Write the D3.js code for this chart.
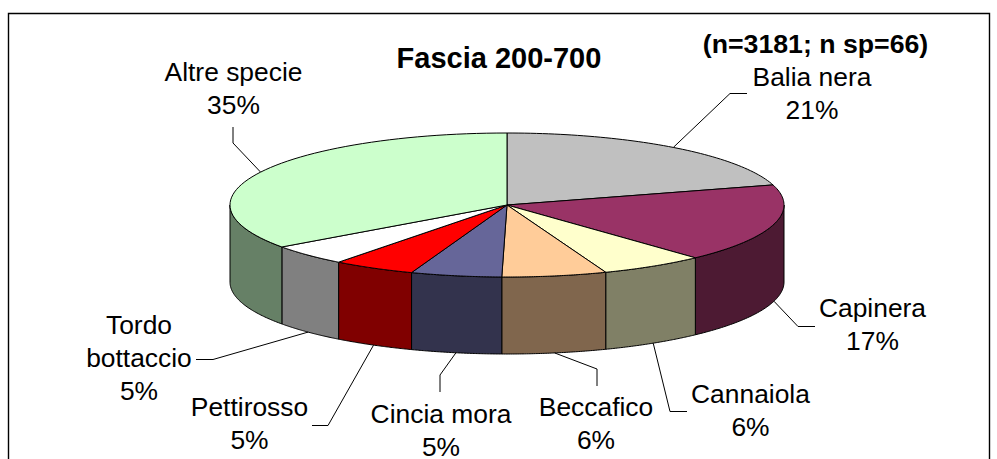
<!DOCTYPE html>
<html>
<head>
<meta charset="utf-8">
<script src="https://cdn.jsdelivr.net/npm/d3@7"></script>
<style>
  html, body { margin: 0; padding: 0; background: #fff; }
  svg { display: block; }
  text { font-family: "Liberation Sans", Arial, sans-serif; fill: #000; }
</style>
</head>
<body>
<script>
// values, clockwise from 12 o'clock
const species = ["Balia nera", "Capinera", "Cannaiola", "Beccafico", "Cincia mora", "Pettirosso", "Tordo bottaccio", "Altre specie"];
const shares = [20.5, 17.6, 6.1, 6.1, 5.3, 4.8, 4.7, 34.9];
const shareLabels = ["21%", "17%", "6%", "6%", "5%", "5%", "5%", "35%"];
const topColors = ["#c0c0c0", "#993366", "#ffffcc", "#ffcc99", "#666699", "#ff0000", "#ffffff", "#ccffcc"];
const sideColors = ["#606060", "#4d1a33", "#808066", "#80664d", "#33334d", "#800000", "#808080", "#668066"];

const width = 997;
const height = 459;

// pie geometry
const cx = 507, cy = 205, rx = 277, ry = 72, depth = 77;
const lineHeight = 33;

// where each label sits and the elbow of its leader line
const labelLayout = [
  { lines: ["Balia nera"], x: 812, y: 86, elbow: [[730, 93.5], [747, 93.5]] },
  { lines: ["Capinera"], x: 872.5, y: 317, elbow: [[798, 326.5], [815, 326.5]] },
  { lines: ["Cannaiola"], x: 750.5, y: 403, elbow: [[670, 411.5], [687, 411.5]] },
  { lines: ["Beccafico"], x: 596, y: 416, elbow: [[597, 369], [597, 386]] },
  { lines: ["Cincia mora"], x: 441, y: 423, elbow: [[440, 375], [440, 392]] },
  { lines: ["Pettirosso"], x: 249.5, y: 416, elbow: [[328, 425.5], [312, 425.5]] },
  { lines: ["Tordo", "bottaccio"], x: 139, y: 334, elbow: [[213, 359.5], [196, 359.5]] },
  { lines: ["Altre specie"], x: 233.5, y: 81, elbow: [[233, 143], [233, 127]] },
];

const svg = d3.select("body").append("svg")
  .attr("width", width)
  .attr("height", height);

// chart frame, cut off by the bottom of the picture
svg.append("path")
  .attr("d", `M8.5,${height} V13.5 H989.5 V${height}`)
  .attr("fill", "none")
  .attr("stroke", "#000")
  .attr("stroke-width", 1.4);

const slices = d3.pie().sort(null)(shares).map((d, i) => ({ ...d, i }));

// 0 = 12 o'clock, clockwise
const px = (a) => cx + rx * Math.sin(a);
const py = (a, dz = 0) => cy - ry * Math.cos(a) + dz;
const line = d3.line();
const frontStart = Math.PI / 2;
const frontEnd = (3 * Math.PI) / 2;

const sweep = (a0, a1, dz) =>
  d3.range(0, 61).map((i) => {
    const a = a0 + ((a1 - a0) * i) / 60;
    return [px(a), py(a, dz)];
  });

// side wall only shows on the front half of the ellipse
const wallPath = (d) => {
  const a0 = Math.max(d.startAngle, frontStart);
  const a1 = Math.min(d.endAngle, frontEnd);
  if (a1 <= a0) return null;
  return line(sweep(a0, a1, 0).concat(sweep(a1, a0, depth))) + "Z";
};

svg.append("g").selectAll("path")
  .data(slices.filter((d) => wallPath(d)))
  .enter().append("path")
  .attr("d", wallPath)
  .attr("fill", (d) => sideColors[d.i])
  .attr("stroke", "#000")
  .attr("stroke-width", 1);

svg.append("g").selectAll("path")
  .data(slices)
  .enter().append("path")
  .attr("d", (d) => line([[cx, cy]].concat(sweep(d.startAngle, d.endAngle, 0))) + "Z")
  .attr("fill", (d) => topColors[d.i])
  .attr("stroke", "#000")
  .attr("stroke-width", 1)
  .attr("stroke-linejoin", "round");

// leader lines start on the pie edge at the middle of the slice
svg.append("g").selectAll("path")
  .data(slices)
  .enter().append("path")
  .attr("d", (d) => {
    const mid = (d.startAngle + d.endAngle) / 2;
    const isFront = mid > frontStart && mid < frontEnd;
    return line([[px(mid), py(mid, isFront ? depth : 0)]].concat(labelLayout[d.i].elbow));
  })
  .attr("fill", "none")
  .attr("stroke", "#000")
  .attr("stroke-width", 1);

// slice labels
svg.append("g").selectAll("text")
  .data(slices)
  .enter().append("text")
  .attr("text-anchor", "middle")
  .attr("font-size", 26.4)
  .each(function (d, i) {
    const l = labelLayout[i];
    d3.select(this).selectAll("tspan")
      .data(l.lines.concat(shareLabels[i]))
      .enter().append("tspan")
      .attr("x", l.x)
      .attr("y", (r, j) => l.y + j * lineHeight)
      .text((r) => r);
  });

svg.append("text")
  .attr("x", 499).attr("y", 68)
  .attr("text-anchor", "middle")
  .attr("font-size", 29)
  .attr("font-weight", "bold")
  .text("Fascia 200-700");

svg.append("text")
  .attr("x", 815.5).attr("y", 53)
  .attr("text-anchor", "middle")
  .attr("font-size", 26.7)
  .attr("font-weight", "bold")
  .text("(n=3181; n sp=66)");
</script>
</body>
</html>
